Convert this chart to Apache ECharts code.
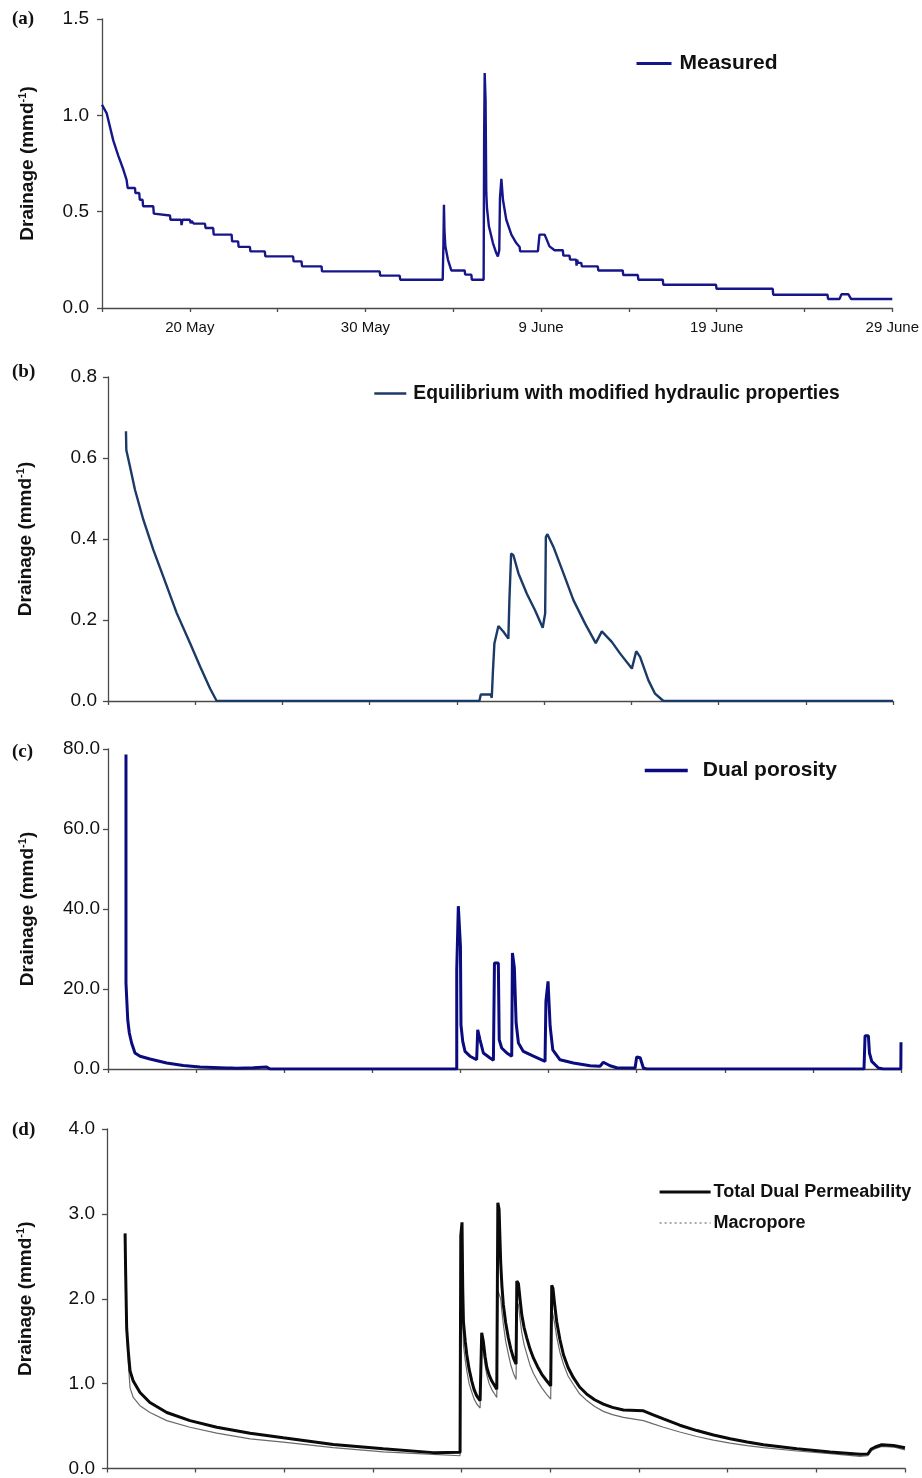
<!DOCTYPE html>
<html>
<head>
<meta charset="utf-8">
<script src="https://cdn.jsdelivr.net/npm/echarts@6/dist/echarts.min.js"></script>
<style>
html,body{margin:0;padding:0;background:#fff;}
#chart{width:922px;height:1478px;}
</style>
</head>
<body>
<div id="chart"></div>
<script>
// x = days since 15 May
const tickDays = [5, 15, 25, 35, 45];
const tickLabels = ['20 May', '30 May', '9 June', '19 June', '29 June'];
const panelLabels = ['(a)', '(b)', '(c)', '(d)'];
const seriesNames = ['Measured', 'Equilibrium with modified hydraulic properties', 'Dual porosity', 'Total Dual Permeability', 'Macropore'];

const measured = [
[0,1.055],[0.27,1.01],[0.64,0.87],[0.93,0.79],[1.21,0.72],[1.40,0.665],[1.46,0.623],[1.88,0.623],[1.9,0.597],[2.12,0.597],[2.15,0.562],[2.31,0.562],[2.34,0.528],[2.92,0.528],[2.95,0.49],[3.0,0.48],[3.87,0.48],[3.9,0.458],[4.5,0.458],[4.53,0.43],[4.58,0.458],[5.0,0.458],[5.05,0.44],[5.1,0.452],[5.19,0.452],[5.22,0.438],[5.86,0.438],[5.9,0.415],[6.33,0.415],[6.36,0.381],[7.38,0.381],[7.41,0.346],[7.75,0.346],[7.78,0.317],[8.42,0.317],[8.45,0.294],[9.27,0.294],[9.3,0.268],[10.88,0.268],[10.91,0.242],[11.36,0.242],[11.39,0.216],[12.5,0.216],[12.53,0.19],[15.81,0.19],[15.84,0.168],[16.95,0.168],[16.98,0.147],[19.40,0.147],[19.44,0.33],[19.47,0.536],[19.50,0.40],[19.55,0.32],[19.70,0.25],[19.89,0.195],[20.65,0.195],[20.68,0.173],[21.03,0.173],[21.06,0.147],[21.73,0.147],[21.76,0.9],[21.79,1.22],[21.84,1.08],[21.88,0.60],[21.92,0.52],[22.03,0.424],[22.26,0.337],[22.45,0.285],[22.54,0.268],[22.62,0.30],[22.66,0.57],[22.74,0.671],[22.83,0.562],[23.02,0.458],[23.31,0.381],[23.59,0.337],[23.78,0.317],[23.81,0.294],[24.82,0.294],[24.91,0.381],[25.2,0.381],[25.3,0.36],[25.48,0.32],[25.77,0.30],[26.24,0.30],[26.27,0.272],[26.62,0.272],[26.65,0.251],[27.0,0.251],[27.02,0.22],[27.06,0.251],[27.1,0.234],[27.29,0.234],[27.32,0.216],[28.23,0.216],[28.26,0.195],[29.65,0.195],[29.68,0.171],[30.51,0.171],[30.54,0.147],[31.93,0.147],[31.96,0.121],[34.96,0.121],[34.99,0.1],[38.19,0.1],[38.22,0.069],[41.31,0.069],[41.34,0.047],[42.0,0.047],[42.1,0.071],[42.5,0.071],[42.65,0.047],[45,0.047]
];

const equilibrium = [
[1.03,0.666],[1.05,0.62],[1.26,0.579],[1.55,0.521],[2.03,0.447],[2.6,0.373],[3.17,0.307],[3.94,0.217],[4.7,0.143],[5.28,0.085],[5.85,0.031],[6.23,0.0],[21.29,0.0],[21.37,0.016],[21.94,0.016],[22.0,0.008],[22.06,0.068],[22.15,0.142],[22.38,0.185],[22.67,0.171],[22.95,0.154],[23.01,0.249],[23.11,0.364],[23.24,0.36],[23.53,0.315],[24.01,0.265],[24.48,0.224],[24.92,0.181],[25.06,0.216],[25.1,0.405],[25.19,0.412],[25.53,0.381],[26.11,0.315],[26.68,0.249],[27.35,0.191],[27.96,0.143],[28.31,0.172],[28.88,0.146],[29.36,0.117],[30.03,0.08],[30.28,0.123],[30.5,0.109],[30.98,0.051],[31.36,0.018],[31.84,0],[45,0]
];

const dualPorosity = [
[1.02,78.6],[1.02,21.5],[1.08,21],[1.12,12.3],[1.21,9],[1.34,6.5],[1.53,4],[1.82,3.2],[2.38,2.5],[3.33,1.5],[4.27,0.9],[5.22,0.5],[6.73,0.25],[7.0,0.25],[7.11,0.5],[7.3,0.2],[8.25,0.3],[8.3,0.5],[9.0,0.5],[9.2,0],[19.79,0],[19.79,24.8],[19.85,24.8],[19.88,40.7],[19.95,40.7],[20.0,30.7],[20.03,11],[20.13,6.9],[20.26,4.4],[20.54,3.2],[20.92,2.3],[20.98,9.8],[21.11,7.3],[21.3,4],[21.68,2.75],[21.87,2.2],[21.93,26.5],[22.15,26.5],[22.2,7.3],[22.34,5.25],[22.63,4],[22.91,3.2],[22.95,29],[23.03,29],[23.06,25.3],[23.16,11.5],[23.29,6.5],[23.57,4.4],[24.14,3.2],[24.8,1.9],[24.85,16.9],[24.97,21.9],[25.03,21.9],[25.09,10.7],[25.24,4.8],[25.65,2.3],[26.41,1.5],[27.36,0.8],[27.92,0.7],[28.11,1.7],[28.49,0.8],[28.87,0.3],[29.91,0.25],[30.0,3],[30.2,2.8],[30.38,0.25],[30.57,0],[42.9,0],[42.96,8.3],[43.15,8.3],[43.21,4],[43.34,1.9],[43.72,0.25],[44.0,0],[44.99,0],[45,6.7]
];

const totalDualPerm = [
[1.02,2.77],[1.05,2.33],[1.11,1.65],[1.2,1.38],[1.3,1.15],[1.48,1.03],[1.86,0.895],[2.42,0.778],[3.37,0.66],[4.68,0.564],[6.19,0.486],[8.07,0.416],[9.94,0.362],[12.76,0.284],[15.58,0.233],[18.4,0.187],[19.91,0.19],[19.95,2.74],[20.02,2.9],[20.06,2.12],[20.1,1.73],[20.2,1.5],[20.29,1.34],[20.42,1.17],[20.57,1.03],[20.7,0.93],[20.85,0.856],[21.04,0.798],[21.13,1.6],[21.22,1.5],[21.32,1.32],[21.42,1.19],[21.55,1.1],[21.7,1.03],[21.98,0.934],[22.04,3.13],[22.11,3.05],[22.2,2.43],[22.27,2.15],[22.35,1.93],[22.48,1.72],[22.63,1.54],[22.77,1.41],[22.92,1.3],[23.07,1.23],[23.11,2.21],[23.2,2.18],[23.3,1.98],[23.39,1.81],[23.52,1.66],[23.67,1.54],[23.85,1.41],[24.05,1.3],[24.28,1.2],[24.52,1.11],[24.77,1.04],[25.02,0.973],[25.08,2.16],[25.15,2.12],[25.25,1.92],[25.36,1.73],[25.54,1.52],[25.74,1.34],[26.0,1.19],[26.3,1.07],[26.65,0.96],[27.06,0.875],[27.5,0.81],[27.99,0.759],[28.5,0.72],[29.12,0.689],[30.25,0.68],[30.8,0.632],[31.38,0.584],[32.3,0.51],[33.26,0.447],[34.2,0.395],[35.14,0.35],[36.1,0.313],[37.02,0.28],[38.9,0.233],[40.78,0.195],[42.47,0.167],[42.9,0.17],[43.1,0.23],[43.32,0.253],[43.69,0.28],[44.35,0.272],[45,0.245]
];

const macropore = [
[1.02,2.7],[1.05,2.3],[1.11,1.6],[1.2,1.25],[1.3,0.95],[1.48,0.837],[1.86,0.74],[2.42,0.66],[3.37,0.564],[4.68,0.486],[6.19,0.416],[8.07,0.35],[9.94,0.311],[12.76,0.245],[15.58,0.195],[18.4,0.167],[19.91,0.15],[19.95,1.8],[20.02,2.0],[20.06,1.75],[20.1,1.45],[20.2,1.28],[20.29,1.15],[20.42,1.0],[20.57,0.9],[20.7,0.82],[20.85,0.76],[21.04,0.712],[21.13,1.5],[21.22,1.4],[21.32,1.22],[21.42,1.1],[21.55,1.0],[21.7,0.93],[21.98,0.837],[22.04,2.1],[22.11,2.12],[22.2,2.0],[22.27,1.85],[22.35,1.7],[22.48,1.5],[22.63,1.35],[22.77,1.22],[22.92,1.12],[23.07,1.05],[23.11,1.96],[23.2,1.93],[23.3,1.75],[23.39,1.6],[23.52,1.46],[23.67,1.35],[23.85,1.22],[24.05,1.12],[24.28,1.03],[24.52,0.95],[24.77,0.88],[25.02,0.817],[25.08,1.89],[25.15,1.87],[25.25,1.7],[25.36,1.55],[25.54,1.37],[25.74,1.23],[26.0,1.09],[26.3,0.99],[26.65,0.88],[27.06,0.8],[27.5,0.73],[27.99,0.673],[28.5,0.635],[29.12,0.603],[30.25,0.564],[30.8,0.525],[31.38,0.486],[32.3,0.43],[33.26,0.377],[34.2,0.335],[35.14,0.3],[36.1,0.27],[37.02,0.245],[38.9,0.206],[40.78,0.175],[42.47,0.144],[42.9,0.15],[43.1,0.21],[43.32,0.233],[43.69,0.26],[44.35,0.253],[45,0.22]
];

const yMax = [1.5, 0.8, 80, 4];
const yInterval = [0.5, 0.2, 20, 1];

const SANS = '"Liberation Sans", Arial, sans-serif';
const SERIF = '"Liberation Serif", "Times New Roman", serif';
const AX = '#4a4a4a';

const grids = [
  {left: 102, right: 29, top: 19, height: 289},
  {left: 108, right: 29, top: 377, height: 324},
  {left: 108, right: 21, top: 749, height: 320},
  {left: 107, right: 17, top: 1129, height: 343}
];
const nameGaps = [63, 71, 69, 70];
const labelMargins = [13, 11, 8, 12];

const xAxes = grids.map((g, i) => ({
  type: 'value', gridIndex: i, min: 0, max: 45, interval: 5,
  axisLine: {show: true, lineStyle: {color: AX, width: 1.3}},
  axisTick: {show: true, length: 4, lineStyle: {color: AX, width: 1.3}},
  splitLine: {show: false},
  axisLabel: i === 0 ? {
    show: true, margin: 12, color: '#111', fontFamily: SANS, fontSize: 15,
    formatter: v => { const k = tickDays.indexOf(v); return k >= 0 ? tickLabels[k] : ''; }
  } : {show: false}
}));

const yAxes = grids.map((g, i) => ({
  type: 'value', gridIndex: i, min: 0, max: yMax[i], interval: yInterval[i],
  axisLine: {show: true, lineStyle: {color: AX, width: 1.3}},
  axisTick: {show: true, length: 5, lineStyle: {color: AX, width: 1.3}},
  splitLine: {show: false},
  axisLabel: {show: true, margin: labelMargins[i], color: '#111', fontFamily: SANS, fontSize: 19,
    formatter: v => v.toFixed(1)},
  name: '{b|Drainage (mmd}{s|-1}{b|)}',
  nameLocation: 'middle', nameGap: nameGaps[i],
  nameTextStyle: {
    rich: {
      b: {fontFamily: SANS, fontWeight: 'bold', fontSize: 19, color: '#111', lineHeight: 22},
      s: {fontFamily: SANS, fontWeight: 'bold', fontSize: 11, color: '#111', lineHeight: 22, verticalAlign: 'top'}
    }
  }
}));

const lineSeries = (name, data, idx, color, width, type) => ({
  name, type: 'line', data, xAxisIndex: idx, yAxisIndex: idx,
  symbol: 'none', showSymbol: false, smooth: false, animation: false,
  lineStyle: {color, width, type: type || 'solid'}, itemStyle: {color},
  emphasis: {disabled: true}
});

const series = [
  lineSeries(seriesNames[0], measured, 0, '#16168a', 2.4),
  lineSeries(seriesNames[1], equilibrium, 1, '#1c3a68', 2.4),
  lineSeries(seriesNames[2], dualPorosity, 2, '#0b0b80', 3),
  lineSeries(seriesNames[4], macropore, 3, '#6a6a6a', 1.2),
  lineSeries(seriesNames[3], totalDualPerm, 3, '#0a0a0a', 3)
];

const txt = size => ({fontFamily: SANS, fontWeight: 'bold', color: '#111', fontSize: size});
const legendBase = {show: true, selectedMode: false, padding: 0, itemStyle: {opacity: 0}};

const legends = [
  Object.assign({}, legendBase, {data: [seriesNames[0]], left: 635, top: 53, itemWidth: 35, itemHeight: 14,
    lineStyle: {width: 3},
    textStyle: Object.assign(txt(21), {padding: [0, 0, 0, 3]})}),
  Object.assign({}, legendBase, {data: [seriesNames[1]], left: 373, top: 384, itemWidth: 32, itemHeight: 14,
    lineStyle: {width: 2.6},
    textStyle: Object.assign(txt(19.3), {padding: [0, 0, 0, 2]})}),
  Object.assign({}, legendBase, {data: [seriesNames[2]], left: 643, top: 760, itemWidth: 43, itemHeight: 14,
    lineStyle: {width: 3.5},
    textStyle: Object.assign(txt(21), {padding: [0, 0, 0, 10]})}),
  Object.assign({}, legendBase, {
    data: [{name: seriesNames[3], lineStyle: {width: 3.2, color: '#0a0a0a'}},
           {name: seriesNames[4], lineStyle: {type: [2, 3], color: '#555', width: 1.2}}],
    orient: 'vertical', left: 658, top: 1183, itemWidth: 51, itemHeight: 14, itemGap: 13,
    textStyle: Object.assign(txt(18), {padding: [0, 0, 0, -2]})})
];

const labelY = [20, 373, 753, 1131];
const graphic = panelLabels.map((t, i) => ({
  type: 'text', left: 12, top: labelY[i] - 10,
  style: {text: t, font: 'bold 19px ' + SERIF, fill: '#111'}
}));

const chart = echarts.init(document.getElementById('chart'), null, {renderer: 'canvas'});
chart.setOption({
  animation: false,
  backgroundColor: '#ffffff',
  grid: grids,
  xAxis: xAxes,
  yAxis: yAxes,
  legend: legends,
  series,
  graphic
});
</script>
</body>
</html>
